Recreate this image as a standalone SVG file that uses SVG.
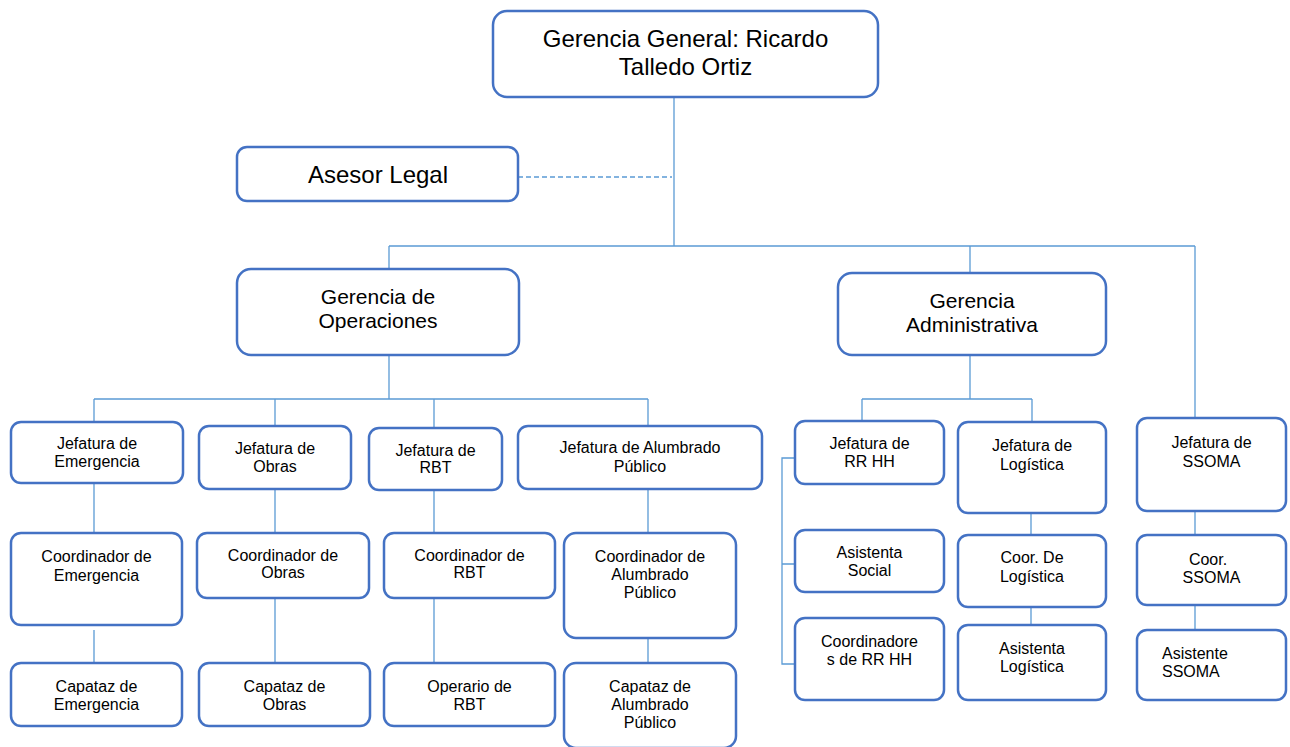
<svg xmlns="http://www.w3.org/2000/svg" width="1290" height="747" viewBox="0 0 1290 747">
<style>
.bx{fill:#fff;stroke:#4472C4;stroke-width:2.5}
.t{font-family:"Liberation Sans",Arial,sans-serif;fill:#000;text-anchor:middle}
.big{font-size:24px}
.mid{font-size:21px}
.sm{font-size:16px}
.ln{fill:none;stroke:#5B9BD5;stroke-width:1.3}
.dash{stroke-dasharray:5 3}
</style>
<rect width="1290" height="747" fill="#fff"/>
<g id="connectors">
<path class="ln" d="M674 97V246M389 246H1195M389 246V269M970 246V273M1195 246V418"/>
<path class="ln dash" d="M518 177H672"/>
<path class="ln" d="M389 355V399M94 399H648M94 399V422M275 399V426M434 399V428M648 399V426"/>
<path class="ln" d="M970 355V399M862 399H1032M862 399V421M1032 399V422"/>
<path class="ln" d="M795 458H782V664H795M782 564H795"/>
<path class="ln" d="M94 483V533M94 630V663M275 489V533M275 598V663M434 490V533M434 598V663M648 489V533M648 638V663"/>
<path class="ln" d="M1031 513V535M1031 607V625M1195 511V535M1195 605V630"/>
</g>
<g id="gerencia-general"><rect class="bx" x="493" y="11" width="385" height="86" rx="14"/><text class="t big" x="685.5" y="47">Gerencia General: Ricardo</text><text class="t big" x="685.5" y="75">Talledo Ortiz</text></g>
<g id="asesor-legal"><rect class="bx" x="237" y="147" width="281" height="54" rx="10"/><text class="t big" x="378" y="183">Asesor Legal</text></g>
<g id="gerencia-operaciones"><rect class="bx" x="237" y="269" width="282" height="86" rx="14"/><text class="t mid" x="378" y="304">Gerencia de</text><text class="t mid" x="378" y="328">Operaciones</text></g>
<g id="gerencia-administrativa"><rect class="bx" x="838" y="273" width="268" height="82" rx="14"/><text class="t mid" x="972" y="308">Gerencia</text><text class="t mid" x="972" y="332">Administrativa</text></g>
<g id="jef-emergencia"><rect class="bx" x="11" y="422" width="172" height="61" rx="10"/><text class="t sm" x="97" y="449">Jefatura de</text><text class="t sm" x="97" y="467">Emergencia</text></g>
<g id="jef-obras"><rect class="bx" x="199" y="426" width="152" height="63" rx="10"/><text class="t sm" x="275" y="454">Jefatura de</text><text class="t sm" x="275" y="472">Obras</text></g>
<g id="jef-rbt"><rect class="bx" x="369" y="428" width="133" height="62" rx="10"/><text class="t sm" x="435.5" y="456">Jefatura de</text><text class="t sm" x="435.5" y="473">RBT</text></g>
<g id="jef-alumbrado"><rect class="bx" x="518" y="426" width="244" height="63" rx="10"/><text class="t sm" x="640" y="453">Jefatura de Alumbrado</text><text class="t sm" x="640" y="472">Público</text></g>
<g id="jef-rrhh"><rect class="bx" x="795" y="421" width="149" height="63" rx="10"/><text class="t sm" x="869.5" y="449">Jefatura de</text><text class="t sm" x="869.5" y="467">RR HH</text></g>
<g id="jef-logistica"><rect class="bx" x="958" y="422" width="148" height="91" rx="10"/><text class="t sm" x="1032" y="451">Jefatura de</text><text class="t sm" x="1032" y="470">Logística</text></g>
<g id="jef-ssoma"><rect class="bx" x="1137" y="418" width="149" height="93" rx="10"/><text class="t sm" x="1211.5" y="448">Jefatura de</text><text class="t sm" x="1211.5" y="467">SSOMA</text></g>
<g id="coord-emergencia"><rect class="bx" x="11" y="533" width="171" height="92" rx="10"/><text class="t sm" x="96.5" y="562">Coordinador de</text><text class="t sm" x="96.5" y="581">Emergencia</text></g>
<g id="coord-obras"><rect class="bx" x="197" y="533" width="172" height="65" rx="10"/><text class="t sm" x="283" y="561">Coordinador de</text><text class="t sm" x="283" y="578">Obras</text></g>
<g id="coord-rbt"><rect class="bx" x="384" y="533" width="171" height="65" rx="10"/><text class="t sm" x="469.5" y="561">Coordinador de</text><text class="t sm" x="469.5" y="578">RBT</text></g>
<g id="coord-alumbrado"><rect class="bx" x="564" y="533" width="172" height="105" rx="12"/><text class="t sm" x="650" y="562">Coordinador de</text><text class="t sm" x="650" y="580">Alumbrado</text><text class="t sm" x="650" y="598">Público</text></g>
<g id="capataz-emergencia"><rect class="bx" x="11" y="663" width="171" height="63" rx="10"/><text class="t sm" x="96.5" y="692">Capataz de</text><text class="t sm" x="96.5" y="710">Emergencia</text></g>
<g id="capataz-obras"><rect class="bx" x="199" y="663" width="171" height="63" rx="10"/><text class="t sm" x="284.5" y="692">Capataz de</text><text class="t sm" x="284.5" y="710">Obras</text></g>
<g id="operario-rbt"><rect class="bx" x="384" y="663" width="171" height="63" rx="10"/><text class="t sm" x="469.5" y="692">Operario de</text><text class="t sm" x="469.5" y="710">RBT</text></g>
<g id="capataz-alumbrado"><rect class="bx" x="564" y="663" width="172" height="85" rx="12"/><text class="t sm" x="650" y="692">Capataz de</text><text class="t sm" x="650" y="710">Alumbrado</text><text class="t sm" x="650" y="728">Público</text></g>
<g id="asistenta-social"><rect class="bx" x="795" y="530" width="149" height="62" rx="10"/><text class="t sm" x="869.5" y="558">Asistenta</text><text class="t sm" x="869.5" y="576">Social</text></g>
<g id="coordinadores-rrhh"><rect class="bx" x="795" y="618" width="149" height="82" rx="10"/><text class="t sm" x="869.5" y="647">Coordinadore</text><text class="t sm" x="869.5" y="665">s de RR HH</text></g>
<g id="coor-logistica"><rect class="bx" x="958" y="535" width="148" height="72" rx="10"/><text class="t sm" x="1032" y="563">Coor. De</text><text class="t sm" x="1032" y="582">Logística</text></g>
<g id="asistenta-logistica"><rect class="bx" x="958" y="625" width="148" height="75" rx="10"/><text class="t sm" x="1032" y="654">Asistenta</text><text class="t sm" x="1032" y="672">Logística</text></g>
<g id="coor-ssoma"><rect class="bx" x="1137" y="535" width="149" height="70" rx="10"/><text class="t sm" x="1208" y="565">Coor.</text><text class="t sm" x="1211.5" y="583">SSOMA</text></g>
<g id="asistente-ssoma"><rect class="bx" x="1137" y="630" width="149" height="70" rx="10"/><text class="t sm" x="1162" y="659" text-anchor="start" style="text-anchor:start">Asistente</text><text class="t sm" x="1162" y="677" style="text-anchor:start">SSOMA</text></g>
</svg>
